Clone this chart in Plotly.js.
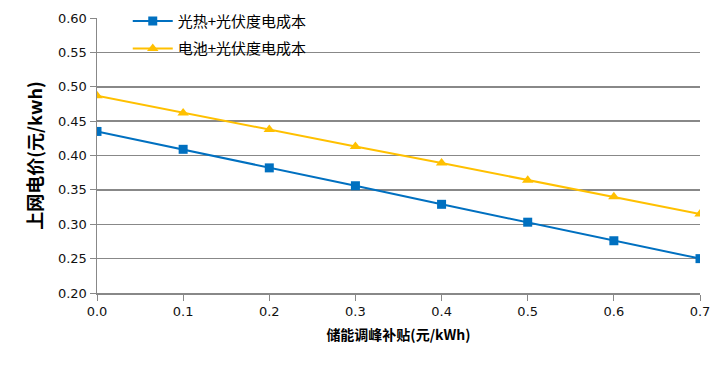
<!DOCTYPE html>
<html><head><meta charset="utf-8">
<script src="https://cdn.plot.ly/plotly-3.0.1.min.js"></script>
<style>body{margin:0;background:#fff}#c{width:718px;height:369px}</style>
</head><body><div id="c"></div>
<script>
const subsidy = [0.0, 0.1, 0.2, 0.3, 0.4, 0.5, 0.6, 0.7];
const thermalPV = [0.435, 0.409, 0.382, 0.356, 0.329, 0.303, 0.276, 0.250];
const batteryPV = [0.487, 0.462, 0.438, 0.413, 0.389, 0.364, 0.340, 0.315];
const names = ['光热+光伏度电成本', '电池+光伏度电成本'];
const xTicks = ['0.0','0.1','0.2','0.3','0.4','0.5','0.6','0.7'];

const font = 'Noto Sans CJK SC, DejaVu Sans, sans-serif';
const data = [
  {x: subsidy, y: thermalPV, name: names[0], legendgroup: 'a', type: 'scatter', mode: 'lines+markers',
   line: {color: '#0070C0', width: 2}, marker: {symbol: 'square', size: 9, color: '#0070C0'}},
  {x: subsidy, y: batteryPV, name: names[1], legendgroup: 'b', type: 'scatter', mode: 'lines+markers',
   line: {color: '#FFC000', width: 2}, marker: {symbol: 'triangle-up', size: 10, color: '#FFC000'}}
];
const layout = {
  width: 718, height: 369,
  margin: {l: 97, r: 18, t: 18, b: 76, autoexpand: false},
  paper_bgcolor: '#fff', plot_bgcolor: '#fff',
  showlegend: true,
  legend: {x: 0.051, y: 1.048, xanchor: 'left', yanchor: 'top', bgcolor: 'rgba(0,0,0,0)',
    font: {family: font, size: 15, color: '#000'}, tracegroupgap: 5, itemwidth: 40},
  xaxis: {range: [0, 0.7], tickvals: subsidy, ticktext: xTicks, showgrid: false, zeroline: false,
    showline: true, linecolor: '#888', linewidth: 1.5, ticks: 'outside', ticklen: 6, tickcolor: '#888',
    tickfont: {family: 'DejaVu Sans, sans-serif', size: 13, color: '#111'},
    title: {text: '<b>储能调峰补贴(元/kWh)</b>', font: {family: font, size: 14, color: '#000'}, standoff: 12}},
  yaxis: {range: [0.2, 0.6], dtick: 0.05, tickformat: '.2f', showgrid: true, gridcolor: '#888', gridwidth: 1.5,
    zeroline: false, showline: true, linecolor: '#888', linewidth: 1.5, ticks: 'outside', ticklen: 6, tickcolor: '#888',
    tickfont: {family: 'DejaVu Sans, sans-serif', size: 13, color: '#111'},
    title: {text: '<b>上网电价(元/kwh)</b>', font: {family: font, size: 18, color: '#000'}, standoff: 10}}
};
Plotly.newPlot('c', data, layout, {displayModeBar: false, staticPlot: true});
</script></body></html>
